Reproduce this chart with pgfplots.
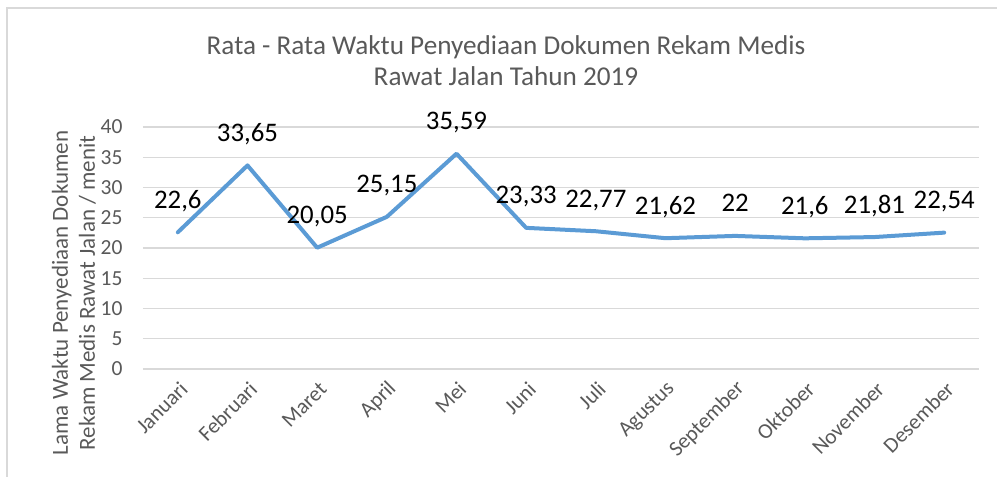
\documentclass[border=0pt]{standalone}
\usepackage{pgfplots}
\pgfplotsset{compat=1.18}
\usepackage{fontspec}
\setmainfont{Carlito}
\definecolor{linecol}{HTML}{5B9BD5}
\definecolor{txtgray}{HTML}{595959}
\definecolor{gridgray}{HTML}{D9D9D9}
\begin{document}
\begin{tikzpicture}
\begin{axis}[
  scale only axis, width=836bp, height=242bp,
  xmin=-0.5, xmax=11.5, ymin=0, ymax=40,
  xtick={0,...,11},
  xticklabels={Januari,Februari,Maret,April,Mei,Juni,Juli,Agustus,September,Oktober,November,Desember},
  ytick={0,5,...,40},
  ymajorgrids, grid style={gridgray, line width=1.2bp},
  axis line style={draw=none}, major tick length=0pt,
  tick label style={font=\fontsize{21.5bp}{25bp}\selectfont, text=txtgray},
  /pgf/number format/assume math mode=true,
  /pgf/number format/use comma,
  /pgf/number format/1000 sep={},
  yticklabel style={xshift=-17bp},
  xticklabel style={rotate=45, anchor=east, yshift=-16bp, xshift=-4bp},
  nodes near coords,
  every node near coord/.append style={font=\fontsize{26.8bp}{30bp}\selectfont, text=black, anchor=base, yshift=24bp, inner sep=0pt},
  clip=false,
]
\addplot[linecol, line width=4bp, line join=round, line cap=round] coordinates {
(0,22.6) (1,33.65) (2,20.05) (3,25.15) (4,35.59) (5,23.33)
(6,22.77) (7,21.62) (8,22) (9,21.6) (10,21.81) (11,22.54)};
\end{axis}
\draw[gridgray, line width=1.5bp] (-136bp,-110bp) -- (-136bp,361bp) -- (860bp,361bp);
\node[align=center, font=\fontsize{27.2bp}{31bp}\selectfont, text=txtgray] at (363bp,308bp) {Rata - Rata Waktu Penyediaan Dokumen Rekam Medis\\Rawat Jalan Tahun 2019};
\node[rotate=90, align=center, font=\fontsize{23bp}{27bp}\selectfont, text=txtgray] at (-69bp,76bp) {Lama Waktu Penyediaan Dokumen\\Rekam Medis Rawat Jalan / menit};
\pgfresetboundingbox
\useasboundingbox (-143bp,-108bp) rectangle (854bp,369bp);
\end{tikzpicture}
\end{document}
